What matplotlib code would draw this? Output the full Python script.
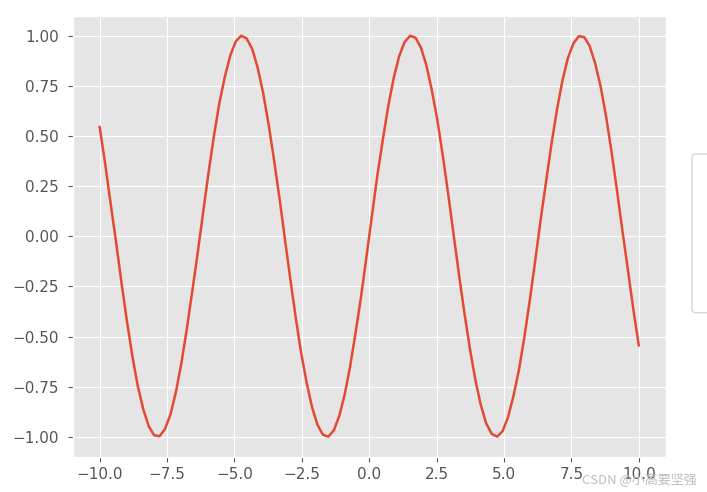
import matplotlib
matplotlib.use('Agg')
import matplotlib.pyplot as plt
from matplotlib.patches import FancyBboxPatch

plt.style.use('ggplot')
plt.rcParams['font.family'] = ['DejaVu Sans', 'Noto Sans CJK SC']

# sample positions and values
x_vals = [-10.00, -9.80, -9.60, -9.39, -9.19, -8.99, -8.79, -8.59, -8.38, -8.18,
          -7.98, -7.78, -7.58, -7.37, -7.17, -6.97, -6.77, -6.57, -6.36, -6.16,
          -5.96, -5.76, -5.56, -5.35, -5.15, -4.95, -4.75, -4.55, -4.34, -4.14,
          -3.94, -3.74, -3.54, -3.33, -3.13, -2.93, -2.73, -2.53, -2.32, -2.12,
          -1.92, -1.72, -1.52, -1.31, -1.11, -0.91, -0.71, -0.51, -0.30, -0.10,
          0.10, 0.30, 0.51, 0.71, 0.91, 1.11, 1.31, 1.52, 1.72, 1.92,
          2.12, 2.32, 2.53, 2.73, 2.93, 3.13, 3.33, 3.54, 3.74, 3.94,
          4.14, 4.34, 4.55, 4.75, 4.95, 5.15, 5.35, 5.56, 5.76, 5.96,
          6.16, 6.36, 6.57, 6.77, 6.97, 7.17, 7.37, 7.58, 7.78, 7.98,
          8.18, 8.38, 8.59, 8.79, 8.99, 9.19, 9.39, 9.60, 9.80, 10.00]
y_vals = [0.544, 0.365, 0.170, -0.031, -0.231, -0.421, -0.595, -0.744, -0.863, -0.947,
          -0.992, -0.997, -0.962, -0.887, -0.776, -0.634, -0.466, -0.280, -0.081, 0.121,
          0.317, 0.500, 0.663, 0.798, 0.902, 0.971, 0.999, 0.986, 0.933, 0.841,
          0.717, 0.564, 0.389, 0.191, -0.010, -0.211, -0.402, -0.578, -0.730, -0.852,
          -0.940, -0.989, -0.999, -0.967, -0.896, -0.789, -0.651, -0.485, -0.300, -0.101,
          0.101, 0.300, 0.485, 0.651, 0.789, 0.896, 0.967, 0.999, 0.989, 0.940,
          0.852, 0.730, 0.578, 0.402, 0.211, 0.010, -0.191, -0.389, -0.564, -0.717,
          -0.841, -0.933, -0.986, -0.999, -0.971, -0.902, -0.798, -0.663, -0.500, -0.317,
          -0.121, 0.081, 0.280, 0.466, 0.634, 0.776, 0.887, 0.962, 0.997, 0.992,
          0.947, 0.863, 0.744, 0.595, 0.421, 0.231, 0.031, -0.170, -0.365, -0.544]

W, H = 707, 492
fig = plt.figure(figsize=(W / 100, H / 100), dpi=100)
ax = fig.add_axes([72.7 / W, (H - 456.7) / H, 593 / W, 441 / H])

ax.plot(x_vals, y_vals, color='#E24A33', linewidth=1.8)
ax.set_yticks([-1.0, -0.75, -0.5, -0.25, 0.0, 0.25, 0.5, 0.75, 1.0])
ax.set_xticks([-10.0, -7.5, -5.0, -2.5, 0.0, 2.5, 5.0, 7.5, 10.0])
ax.tick_params(axis='both', labelsize=11, length=3.6)
ax.tick_params(axis='y', pad=6.5)

# empty legend frame sticking out on the right
box = FancyBboxPatch((692 / W, (H - 312.7) / H), 0.05, 158.7 / H,
                     boxstyle='round,pad=0,rounding_size=0.006',
                     transform=fig.transFigure, facecolor='white',
                     edgecolor='#d8d8d8', linewidth=1.0, clip_on=False)
fig.patches.append(box)

fig.text(582 / W, 9 / H, 'CSDN @小高要坚强', fontsize=9.4, color='#bdbdbd',
         family=['Noto Sans CJK SC', 'DejaVu Sans'])

fig.savefig('out.png', dpi=100)
